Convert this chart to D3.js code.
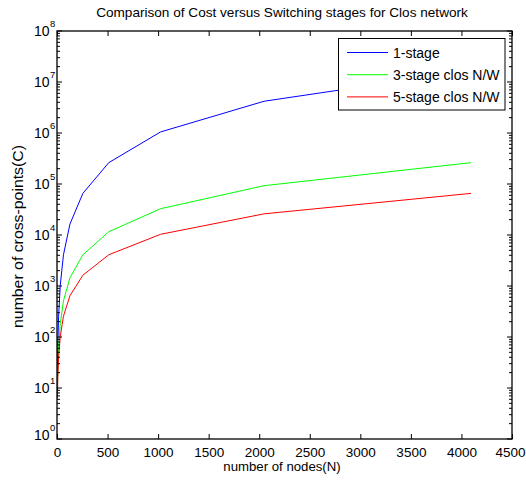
<!DOCTYPE html>
<html><head><meta charset="utf-8">
<script src="https://cdn.jsdelivr.net/npm/d3@7"></script>
<style>body{margin:0;background:#fff}text{font-family:"Liberation Sans",Arial,sans-serif;fill:#000}</style>
</head><body><svg id="c" width="526" height="482"></svg>
<script>
const nodes = [4, 8, 16, 32, 64, 128, 256, 512, 1024, 2048, 4096];
const oneStage = [16, 64, 256, 1024, 4096, 16384, 65536, 262144, 1048576, 4194304, 16777216];
const threeStage = [8, 23, 64, 181, 512, 1448, 4096, 11585, 32768, 92682, 262144];
const fiveStage = [6.3, 16, 40, 101, 256, 645, 1625, 4096, 10321, 26008, 65536];
const seriesNames = ["1-stage", "3-stage clos N/W", "5-stage clos N/W"];
const seriesColors = ["#0000ff", "#00ff00", "#ff0000"];
const xTicks = [0, 500, 1000, 1500, 2000, 2500, 3000, 3500, 4000, 4500];
const yExps = [0, 1, 2, 3, 4, 5, 6, 7, 8];

const svg = d3.select("#c");
const L = 57, R = 512, T = 31, B = 439;
const x = d3.scaleLinear().domain([0, 4500]).range([L, R]);
const y = d3.scaleLog().domain([1, 1e8]).range([B, T]);

svg.append("clipPath").attr("id","cp").append("rect").attr("x",L).attr("y",T).attr("width",R-L).attr("height",B-T);
const series = [oneStage, threeStage, fiveStage];
const line = d3.line().x((d,i)=>x(nodes[i])).y(d=>y(d));
series.forEach((s,k)=>{
  svg.append("path").attr("d", line(s)).attr("fill","none").attr("stroke",seriesColors[k]).attr("stroke-width",1).attr("clip-path","url(#cp)");
});

// box
svg.append("rect").attr("x",L).attr("y",T).attr("width",R-L).attr("height",B-T).attr("fill","none").attr("stroke","#000").attr("stroke-width",1.3);

// x ticks
const xb = svg.append("g").attr("transform",`translate(0,${B})`).call(d3.axisBottom(x).tickValues(xTicks).tickSizeInner(-5).tickSizeOuter(0).tickPadding(8).tickFormat(d3.format("d")));
xb.select(".domain").remove();
xb.selectAll("text").attr("font-size",13.5).attr("font-family","Liberation Sans, Arial").attr("fill","#000")
  .attr("dx", d => d === 4500 ? -2 : 0);
const xt = svg.append("g").attr("transform",`translate(0,${T})`).call(d3.axisTop(x).tickValues(xTicks).tickSizeInner(-5).tickSizeOuter(0).tickFormat(""));
xt.select(".domain").remove();

// y ticks (log with minor)
const minor = [];
yExps.forEach(e=>{ if(e<8) for(let m=2;m<=9;m++) minor.push(m*Math.pow(10,e)); });
const majors = yExps.map(e=>Math.pow(10,e));
[L, R].forEach(px=>{
  const dir = px===L ? 1 : -1;
  svg.append("g").selectAll("line").data(majors).join("line").attr("x1",px).attr("x2",px+dir*5).attr("y1",d=>y(d)).attr("y2",d=>y(d)).attr("stroke","#000");
  svg.append("g").selectAll("line").data(minor).join("line").attr("x1",px).attr("x2",px+dir*3).attr("y1",d=>y(d)).attr("y2",d=>y(d)).attr("stroke","#000");
});
const yl = svg.append("g");
yExps.forEach(e=>{
  const by = e===0 ? y(1)+1 : y(Math.pow(10,e))+4.5;
  yl.append("text").attr("x", 49.5).attr("y", by).attr("text-anchor","end").attr("font-size",14).text("10");
  yl.append("text").attr("x", 50).attr("y", by-9).attr("font-size",9.5).text(e);
});

// title & labels
svg.append("text").attr("x",282).attr("y",17).attr("text-anchor","middle").attr("font-size",13.6).text("Comparison of Cost versus Switching stages for Clos network");
svg.append("text").attr("x",282).attr("y",471).attr("text-anchor","middle").attr("font-size",13.2).text("number of nodes(N)");
svg.append("text").attr("transform",`translate(23,236.5) rotate(-90)`).attr("text-anchor","middle").attr("font-size",14).attr("textLength",183).attr("lengthAdjust","spacingAndGlyphs").text("number of cross-points(C)");

// legend
const lg = svg.append("g");
lg.append("rect").attr("x",338.5).attr("y",38.5).attr("width",166.5).attr("height",71.5).attr("fill","#fff").attr("stroke","#000");
seriesNames.forEach((n,k)=>{
  const yy = 52.5 + k*22.2;
  lg.append("line").attr("x1",347).attr("x2",388).attr("y1",yy).attr("y2",yy).attr("stroke",seriesColors[k]);
  lg.append("text").attr("x",393).attr("y",yy+5).attr("font-size",14).text(n);
});
</script></body></html>
